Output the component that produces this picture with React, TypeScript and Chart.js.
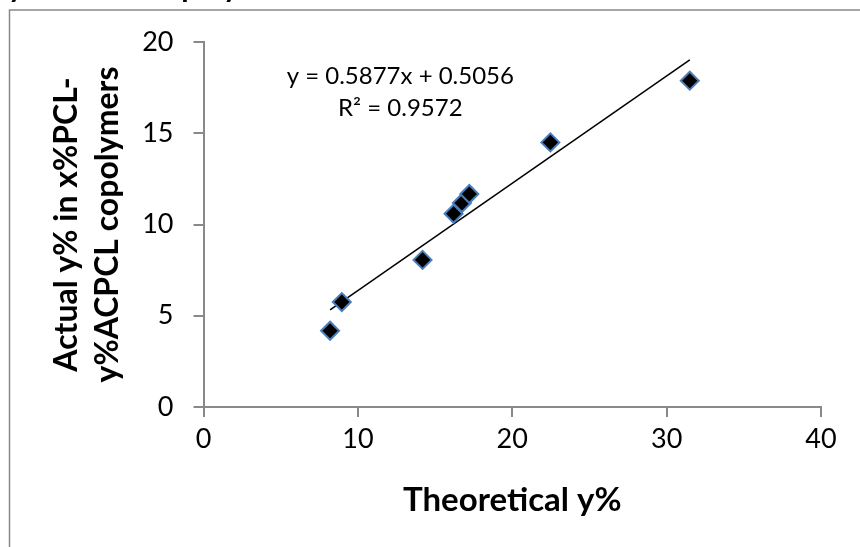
import React, { useEffect, useRef } from "react";
import { Chart, registerables } from "chart.js";

Chart.register(...registerables);

const theoreticalY = [8.2, 8.96, 14.19, 16.2, 16.74, 17.22, 22.47, 31.5];
const actualY = [4.18, 5.75, 8.06, 10.59, 11.18, 11.67, 14.5, 17.88];
const trendSlope = [0.5877];
const trendIntercept = [0.5056];
const equationLines = ["y = 0.5877x + 0.5056", "R² = 0.9572"];
const xTitle = "Theoretical y%";
const yTitle = ["Actual y% in x%PCL-", "y%ACPCL copolymers"];
const topTitle = "y%ACPCL copolymers";
const xTicks = { min: 0, max: 40, step: 10 };
const yTicks = { min: 0, max: 20, step: 5 };

const FONT = "Lato, 'Open Sans', sans-serif";

export default function App() {
  const ref = useRef<HTMLCanvasElement | null>(null);
  useEffect(() => {
    if (!ref.current) return;
    const xs = theoreticalY;
    const xmin = Math.min(...xs);
    const xmax = Math.max(...xs);
    const m = trendSlope[0];
    const b = trendIntercept[0];
    const trend = [
      { x: xmin, y: m * xmin + b },
      { x: xmax, y: m * xmax + b },
    ];

    const decor = {
      id: "decor",
      afterDraw(chart: any) {
        const ctx = chart.ctx;
        ctx.save();
        ctx.strokeStyle = "#898989";
        ctx.lineWidth = 1.5;
        ctx.beginPath();
        ctx.moveTo(9.5, 547);
        ctx.lineTo(9.5, 10);
        ctx.lineTo(860, 10);
        ctx.stroke();
        ctx.fillStyle = "#000";
        ctx.font = `bold 30px ${FONT}`;
        ctx.textBaseline = "alphabetic";
        ctx.textAlign = "left";
        ctx.fillText(topTitle, 8, -3);
        const xs2 = chart.scales.x;
        const ys2 = chart.scales.y;
        ctx.font = `24px ${FONT}`;
        ctx.textAlign = "center";
        ctx.textBaseline = "middle";
        ctx.fillText(equationLines[0], xs2.getPixelForValue(12.75), ys2.getPixelForValue(18.1));
        ctx.fillText(equationLines[1], xs2.getPixelForValue(12.75), ys2.getPixelForValue(16.35));
        ctx.restore();
      },
    };

    const chart = new Chart(ref.current, {
      type: "scatter",
      data: {
        datasets: [
          {
            type: "line",
            data: trend,
            borderColor: "#000",
            borderWidth: 1.5,
            pointRadius: 0,
            fill: false,
            order: 2,
          } as any,
          {
            data: xs.map((x, i) => ({ x, y: actualY[i] })),
            pointStyle: "rectRot",
            pointRadius: 9,
            pointBackgroundColor: "#000",
            pointBorderColor: "#4a7ebb",
            pointBorderWidth: 2,
            order: 1,
          },
        ],
      },
      options: {
        animation: false,
        responsive: true,
        maintainAspectRatio: false,
        layout: { padding: { left: 9, top: 42, right: 39, bottom: 0 } },
        plugins: { legend: { display: false }, tooltip: { enabled: false }, title: { display: false } },
        scales: {
          x: {
            type: "linear",
            min: xTicks.min,
            max: xTicks.max,
            ticks: { stepSize: xTicks.step, color: "#000", font: { family: FONT, size: 27 }, padding: 6 },
            grid: { drawOnChartArea: false, drawTicks: true, tickLength: 10, color: "#898989", lineWidth: 2 },
            border: { display: true, color: "#898989", width: 2 },
            title: {
              display: true,
              text: xTitle,
              color: "#000",
              font: { family: FONT, size: 33, weight: "bold" },
              padding: { top: 0, bottom: 27 },
            },
            afterFit(scale: any) {
              scale.height = 140;
            },
          },
          y: {
            type: "linear",
            min: yTicks.min,
            max: yTicks.max,
            ticks: { stepSize: yTicks.step, color: "#000", font: { family: FONT, size: 27 }, padding: 20 },
            grid: { drawOnChartArea: false, drawTicks: true, tickLength: 10, color: "#898989", lineWidth: 2 },
            border: { display: true, color: "#898989", width: 2 },
            title: {
              display: true,
              text: yTitle,
              color: "#000",
              font: { family: FONT, size: 32, weight: "bold", lineHeight: 1.28 },
              padding: { top: 37, bottom: 0 },
            },
            afterFit(scale: any) {
              scale.width = 194.5;
            },
          },
        },
      },
      plugins: [decor],
    });
    return () => chart.destroy();
  }, []);

  return (
    <div style={{ position: "absolute", left: 0, top: 0, width: 860, height: 547, background: "#fff" }}>
      <canvas ref={ref} />
    </div>
  );
}
